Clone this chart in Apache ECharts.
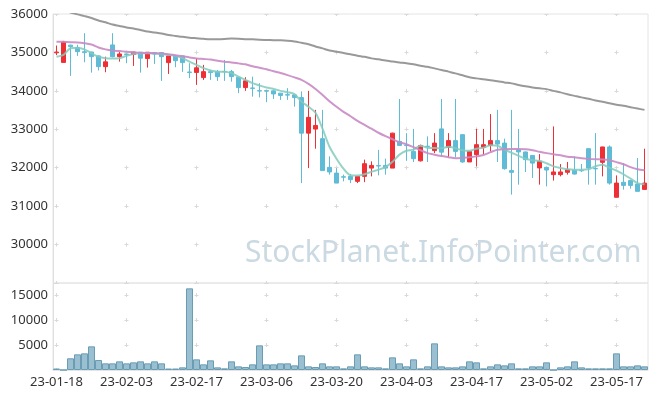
<!DOCTYPE html>
<html>
<head>
<meta charset="utf-8">
<script src="https://cdn.jsdelivr.net/npm/echarts@6/dist/echarts.min.js"></script>
<style>
  html, body { margin: 0; padding: 0; background: #ffffff; }
  #chart { width: 657px; height: 399px; }
</style>
</head>
<body>
<div id="chart"></div>
<script>
var dates = [
  "23-01-18", "23-01-19", "23-01-20", "23-01-25", "23-01-26", "23-01-27", "23-01-30", "23-01-31", "23-02-01", "23-02-02",
  "23-02-03", "23-02-06", "23-02-07", "23-02-08", "23-02-09", "23-02-10", "23-02-13", "23-02-14", "23-02-15", "23-02-16",
  "23-02-17", "23-02-20", "23-02-21", "23-02-22", "23-02-23", "23-02-24", "23-02-27", "23-02-28", "23-03-02", "23-03-03",
  "23-03-06", "23-03-07", "23-03-08", "23-03-09", "23-03-10", "23-03-13", "23-03-14", "23-03-15", "23-03-16", "23-03-17",
  "23-03-20", "23-03-21", "23-03-22", "23-03-23", "23-03-24", "23-03-27", "23-03-28", "23-03-29", "23-03-30", "23-03-31",
  "23-04-03", "23-04-04", "23-04-05", "23-04-06", "23-04-07", "23-04-10", "23-04-11", "23-04-12", "23-04-13", "23-04-14",
  "23-04-17", "23-04-18", "23-04-19", "23-04-20", "23-04-21", "23-04-24", "23-04-25", "23-04-26", "23-04-27", "23-04-28",
  "23-05-02", "23-05-03", "23-05-04", "23-05-08", "23-05-09", "23-05-10", "23-05-11", "23-05-12", "23-05-15", "23-05-16",
  "23-05-17", "23-05-18", "23-05-19", "23-05-22", "23-05-23"
];

var opens = [
  34990, 34740, 35190, 35130, 35020, 35010, 34910, 34630, 35195, 34890,
  34960, 34945, 35005, 34840, 34995, 34995, 34735, 34910, 34910, 34490,
  34480, 34345, 34500, 34500, 34505, 34500, 34355, 34085, 34075, 34005,
  34005, 34000, 33940, 33900, 33895, 33825, 32900, 33005, 32755, 32010,
  31860, 31765, 31775, 31645, 31775, 31990, 32055, 32060, 31990, 32685,
  32585, 32425, 32180, 32560, 32445, 33010, 32530, 32705, 32860, 32150,
  32340, 32530, 32580, 32705, 32640, 31925, 32470, 32410, 32320, 31995,
  32010, 31820, 31820, 31880, 31940, 31930, 32495, 31980, 32140, 32540,
  31230, 31620, 31665, 31575, 31435
];
var closes = [
  35010, 35270, 35150, 35020, 34995, 34890, 34630, 34755, 34890, 34960,
  34945, 35010, 34850, 35005, 34960, 34890, 34910, 34785, 34735, 34480,
  34600, 34500, 34475, 34370, 34495, 34370, 34085, 34260, 34065, 33995,
  33995, 33920, 33880, 33890, 33825, 32900, 33310, 33100, 31925, 31890,
  31600, 31755, 31690, 31775, 32105, 32060, 32045, 31990, 32900, 32580,
  32575, 32235, 32580, 32550, 32640, 32405, 32705, 32425, 32150, 32425,
  32600, 32600, 32705, 32615, 31975, 31880, 32410, 32210, 32120, 32165,
  31940, 31890, 31890, 31950, 31835, 31920, 31990, 31970, 32540, 31600,
  31600, 31540, 31540, 31385, 31600
];
var lows = [
  34930, 34740, 34390, 34910, 34745, 34475, 34530, 34485, 34870, 34760,
  34720, 34650, 34475, 34605, 34700, 34260, 34440, 34615, 34495, 34330,
  34155, 34285, 34285, 34260, 34260, 34240, 33940, 34000, 33850, 33830,
  33705, 33790, 33765, 33765, 33590, 31600, 31990, 32495, 31925, 31820,
  31600, 31645, 31600, 31600, 31625, 31775, 31800, 31820, 31990, 32580,
  32180, 32150, 32160, 32150, 32380, 32295, 32270, 32270, 32130, 32150,
  32035, 32340, 32425, 32150, 31950, 31300, 31560, 31890, 31735, 31560,
  31515, 31665, 31775, 31820, 31820, 31890, 31560, 31560, 31775, 31560,
  31230, 31430, 31455, 31385, 31435
];
var highs = [
  35180, 35300, 35200, 35200, 35500, 35020, 34920, 34890, 35500, 35010,
  34965, 35015, 35010, 35010, 35005, 35005, 34920, 34915, 34915, 34720,
  34850, 34675, 34545, 34545, 34805, 34545, 34360, 34355, 34370, 34200,
  34010, 34010, 33945, 34070, 33910, 33985, 34000, 33505, 33505, 32295,
  31990, 31820, 31840, 31780, 32210, 32165, 32465, 32235, 32910, 33790,
  32900, 33010, 32600, 32815, 32900, 33790, 32900, 33790, 32870, 32430,
  33010, 33010, 33395, 33505, 32755, 33505, 33010, 32420, 32330, 32355,
  32020, 33075, 32095, 32150, 32295, 32095, 32500, 32900, 32545, 32580,
  31800, 32120, 31670, 32250, 32495
];
var volumes = [
  300, 0, 2340, 3130, 3330, 4730, 2000, 1330, 1330, 1730,
  1330, 1530, 1730, 1330, 1730, 1330, 300, 300, 530, 16330,
  2130, 1130, 1930, 530, 330, 1730, 730, 600, 1130, 4930,
  1130, 1130, 1330, 1330, 930, 2930, 730, 600, 1330, 730,
  730, 330, 730, 3130, 730, 530, 530, 330, 2530, 1330,
  730, 2130, 330, 730, 5330, 730, 530, 530, 730, 1730,
  1530, 330, 730, 1130, 930, 1330, 330, 330, 730, 730,
  1530, 0, 530, 730, 1730, 530, 330, 330, 330, 330,
  3330, 730, 730, 930, 730
];
var ma5 = [
  34890, 34935, 35110, 35125, 35080, 34980, 34890, 34850, 34840, 34850,
  34910, 34960, 34980, 34980, 34970, 34955, 34935, 34910, 34850, 34760,
  34675, 34590, 34530, 34500, 34500, 34460, 34370, 34285, 34200, 34140,
  34085, 34050, 34000, 33965, 33915, 33720, 33585, 33430, 33015, 32545,
  32235, 31975, 31805, 31795, 31830, 31895, 31950, 32015, 32155, 32340,
  32440, 32470, 32570, 32520, 32510, 32505, 32545, 32505, 32455, 32440,
  32495, 32520, 32585, 32570, 32470, 32390, 32310, 32235, 32195, 32180,
  32115, 32035, 31990, 31960, 31950, 31950, 31960, 32040, 32080, 32000,
  31925, 31830, 31715, 31600, 31570
];
var ma20 = [
  35280, 35275, 35265, 35260, 35240, 35205, 35130, 35080, 35050, 35035,
  35020, 35005, 34990, 34985, 34980, 34975, 34955, 34925, 34900, 34870,
  34845, 34830, 34815, 34785, 34760, 34740, 34715, 34690, 34640, 34600,
  34560, 34510, 34465, 34410, 34350, 34285, 34180, 34050, 33895, 33730,
  33585, 33455, 33340, 33220, 33115, 33015, 32910, 32820, 32740, 32665,
  32610, 32535, 32455, 32380, 32340, 32305, 32275, 32245, 32255, 32270,
  32295, 32330, 32405, 32470, 32480, 32485, 32485, 32480, 32455, 32415,
  32380, 32350, 32325, 32285, 32270, 32245, 32230, 32220, 32215, 32195,
  32145, 32090, 32015, 31960, 31935
];
var ma60 = [
  36150, 36100, 36040, 35990, 35945, 35895, 35830, 35785, 35725, 35690,
  35650, 35625, 35585, 35545, 35520, 35495, 35455, 35430, 35405, 35385,
  35370, 35355, 35345, 35345, 35350, 35360, 35355, 35345, 35340, 35330,
  35325, 35320, 35315, 35305, 35285, 35250, 35215, 35155, 35105, 35050,
  35020, 34985, 34950, 34915, 34885, 34845, 34820, 34790, 34765, 34740,
  34720, 34690, 34655, 34625, 34585, 34545, 34500, 34455, 34405, 34355,
  34325, 34300, 34275, 34250, 34220, 34195, 34155, 34120, 34090, 34065,
  34045, 34000, 33960, 33910, 33870, 33830, 33795, 33750, 33715, 33675,
  33640, 33610, 33575, 33540, 33505
];

var upColor = "#ee3036";
var downColor = "#5fbbd6";
var labelFont = { color: "#333", fontSize: 13, fontFamily: "Noto Sans" };
var crossColor = "#d9d9d9";

function plainNumber(v) {
  return String(v);
}

function initChart(dom) {
  var chart = echarts.init(dom, null, { width: 657, height: 399, renderer: "canvas" });

  var candles = [];
  for (var i = 0; i < dates.length; i++) {
    candles.push([opens[i], closes[i], lows[i], highs[i]]);
  }

  // hidden axes in grids 2/3 only draw the vertical half of the "+" marks
  var hiddenAxis = {
    axisLine: { show: false },
    axisTick: { show: false },
    axisLabel: { show: false }
  };

  var option = {
    backgroundColor: "#ffffff",
    animation: false,
    graphic: [
      {
        type: "text",
        left: 245,
        top: 238,
        z: 0,
        silent: true,
        style: {
          text: "StockPlanet.InfoPointer.com",
          fill: "#cad9e2",
          font: "30px 'Noto Sans'"
        }
      }
    ],
    grid: [
      { left: 53, top: 14, width: 595, height: 269, show: true, borderColor: "#e4e4e4", borderWidth: 1 },
      { left: 53, top: 283, width: 595, height: 87, show: true, borderColor: "#e4e4e4", borderWidth: 1 },
      { left: 56.5, top: 14, width: 560, height: 269 },
      { left: 56.5, top: 283, width: 560, height: 87 }
    ],
    xAxis: [
      {
        type: "category", gridIndex: 0, data: dates, boundaryGap: true,
        axisLine: { show: false }, axisTick: { show: false }, axisLabel: { show: false },
        splitLine: { show: false }
      },
      {
        type: "category", gridIndex: 1, data: dates, boundaryGap: true,
        axisLine: { show: true, lineStyle: { color: "#e4e4e4" } },
        axisTick: { show: false },
        axisLabel: Object.assign({ interval: 9, margin: 6 }, labelFont),
        splitLine: { show: false }
      },
      Object.assign({
        type: "value", gridIndex: 2, min: 0, max: 80, interval: 10,
        splitLine: { show: true, lineStyle: { color: crossColor, width: 1, type: [4, 34.43], dashOffset: 2 } }
      }, hiddenAxis),
      Object.assign({
        type: "value", gridIndex: 3, min: 0, max: 80, interval: 10,
        splitLine: { show: true, lineStyle: { color: crossColor, width: 1, type: [4, 21], dashOffset: 15 } }
      }, hiddenAxis)
    ],
    yAxis: [
      {
        type: "value", gridIndex: 0, min: 29000, max: 36000, interval: 1000,
        axisLine: { show: true, lineStyle: { color: "#e0e0e0" } },
        axisTick: { show: false },
        axisLabel: Object.assign({ margin: 5, showMinLabel: false, formatter: plainNumber }, labelFont),
        splitLine: { show: true, lineStyle: { color: crossColor, width: 1, type: [4, 66], dashOffset: 68.5 } }
      },
      {
        type: "value", gridIndex: 1, min: 0, max: 17400, interval: 5000,
        axisLine: { show: true, lineStyle: { color: "#e0e0e0" } },
        axisTick: { show: false },
        axisLabel: Object.assign({ margin: 5, showMinLabel: false, showMaxLabel: false, formatter: plainNumber }, labelFont),
        splitLine: { show: true, lineStyle: { color: crossColor, width: 1, type: [4, 66], dashOffset: 68.5 } }
      },
      Object.assign({ type: "value", gridIndex: 2, min: 0, max: 1, splitLine: { show: false } }, hiddenAxis),
      Object.assign({ type: "value", gridIndex: 3, min: 0, max: 1, splitLine: { show: false } }, hiddenAxis)
    ],
    series: [
      {
        name: "candle",
        type: "candlestick",
        xAxisIndex: 0,
        yAxisIndex: 0,
        data: candles,
        barWidth: 5,
        itemStyle: {
          color: upColor,
          color0: downColor,
          borderColor: upColor,
          borderColor0: downColor,
          borderWidth: 1
        }
      },
      {
        name: "MA5", type: "line", xAxisIndex: 0, yAxisIndex: 0, data: ma5,
        smooth: 0.3, symbol: "none",
        lineStyle: { color: "#82cbbd", width: 2, opacity: 0.85 }
      },
      {
        name: "MA20", type: "line", xAxisIndex: 0, yAxisIndex: 0, data: ma20,
        smooth: 0.3, symbol: "none",
        lineStyle: { color: "#c98ac4", width: 2, opacity: 0.9 }
      },
      {
        name: "MA60", type: "line", xAxisIndex: 0, yAxisIndex: 0, data: ma60,
        smooth: 0.3, symbol: "none",
        lineStyle: { color: "#999999", width: 2 }
      },
      {
        name: "volume", type: "bar", xAxisIndex: 1, yAxisIndex: 1, data: volumes,
        barCategoryGap: "0%",
        itemStyle: { color: "rgba(120,170,194,0.75)", borderColor: "#6a9cb4", borderWidth: 1 }
      }
    ]
  };

  chart.setOption(option, true);
  return chart;
}

initChart(document.getElementById("chart"));
</script>
</body>
</html>
